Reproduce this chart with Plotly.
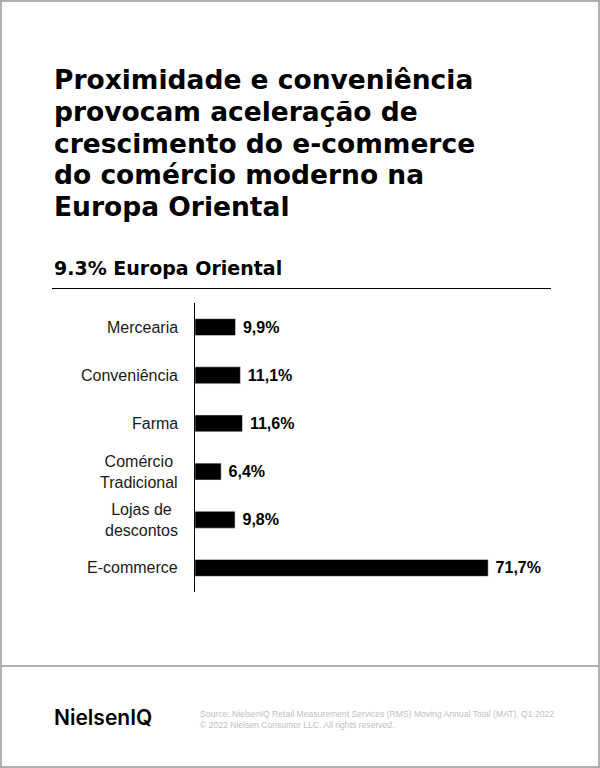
import plotly.graph_objects as go

# data
categories = ["Mercearia", "Conveniência", "Farma", "Comércio<br>Tradicional",
              "Lojas de<br>descontos", "E-commerce"]
growth = [9.9, 11.1, 11.6, 6.4, 9.8, 71.7]
labels = ["\u00a0" + f"{v:.1f}".replace(".", ",") + "%" for v in growth]

title_lines = ["Proximidade e conveniência", "provocam aceleração de",
               "crescimento do e-commerce", "do comércio moderno na",
               "Europa Oriental"]
subtitle = "9.3% Europa Oriental"
source_lines = ["Source: NielsenIQ Retail Measurement Services (RMS) Moving Annual Total (MAT), Q1 2022",
                "© 2022 Nielsen Consumer LLC. All rights reserved."]

# page geometry (pixels)
W, H = 600, 768
L, R, T, B = 195, 37, 303, 176
pw, ph = W - L - R, H - T - B

def X(px):
   return (px - L) / pw

def Y(py):
   return (H - B - py) / ph

fig = go.Figure(go.Bar(
   x=growth,
   y=categories,
   orientation="h",
   marker_color="#000000",
   width=0.35,
   text=labels,
   textposition="outside",
   constraintext="none",
   cliponaxis=False,
   textfont=dict(family="Liberation Sans", size=16, color="#000000", weight="bold"),
))

ann = []
# title, one line per annotation to keep the tight line spacing
for i, line in enumerate(title_lines):
   ann.append(dict(text=line, x=X(52), y=Y(80 + i * 31.5), xanchor="left", yanchor="middle",
                   font=dict(family="DejaVu Sans", size=26.5, color="#000000", weight=700)))
ann.append(dict(text=subtitle, x=X(52), y=Y(268), xanchor="left", yanchor="middle",
                font=dict(family="DejaVu Sans", size=19, color="#000000", weight=700)))
ann.append(dict(text="NielsenIQ", x=X(52), y=Y(717), xanchor="left", yanchor="middle",
                font=dict(family="Inter", size=21, color="#000000", weight=600)))
ann.append(dict(text="<br>".join(source_lines), x=X(198), y=Y(719), xanchor="left", yanchor="middle",
                align="left", font=dict(family="Liberation Sans", size=8.6, color="#c0c0c0")))
for a in ann:
   a.update(xref="paper", yref="paper", showarrow=False)

# category labels, centred on each line like the original
for c in categories:
   ann.append(dict(text=c, x=X(180), y=c, xref="paper", yref="y", xanchor="right",
                   yanchor="middle", align="center", showarrow=False,
                   font=dict(family="Liberation Sans", size=16, color="#1a1a1a")))

shapes = [
   # separator under the subtitle
   dict(type="line", x0=X(52), x1=X(551), y0=Y(288.5), y1=Y(288.5), line=dict(color="#000000", width=1)),
   # footer separator
   dict(type="line", x0=X(0), x1=X(600), y0=Y(666), y1=Y(666), line=dict(color="#b0b0b0", width=2)),
   # outer border
   dict(type="rect", x0=X(1), x1=X(599), y0=Y(1), y1=Y(767), line=dict(color="#b0b0b0", width=2)),
]
for s in shapes:
   s.update(xref="paper", yref="paper")

fig.update_layout(
   width=W, height=H,
   margin=dict(l=L, r=R, t=T, b=B),
   paper_bgcolor="#ffffff",
   plot_bgcolor="#ffffff",
   showlegend=False,
   annotations=ann,
   shapes=shapes,
   xaxis=dict(range=[0, 90], visible=False),
   yaxis=dict(autorange="reversed", showline=True, linecolor="#000000", linewidth=1,
              showgrid=False, zeroline=False, ticks="", showticklabels=False),
)

fig.write_html("out.html", config=dict(displayModeBar=False),
               post_script="document.body.style.margin='0';")
